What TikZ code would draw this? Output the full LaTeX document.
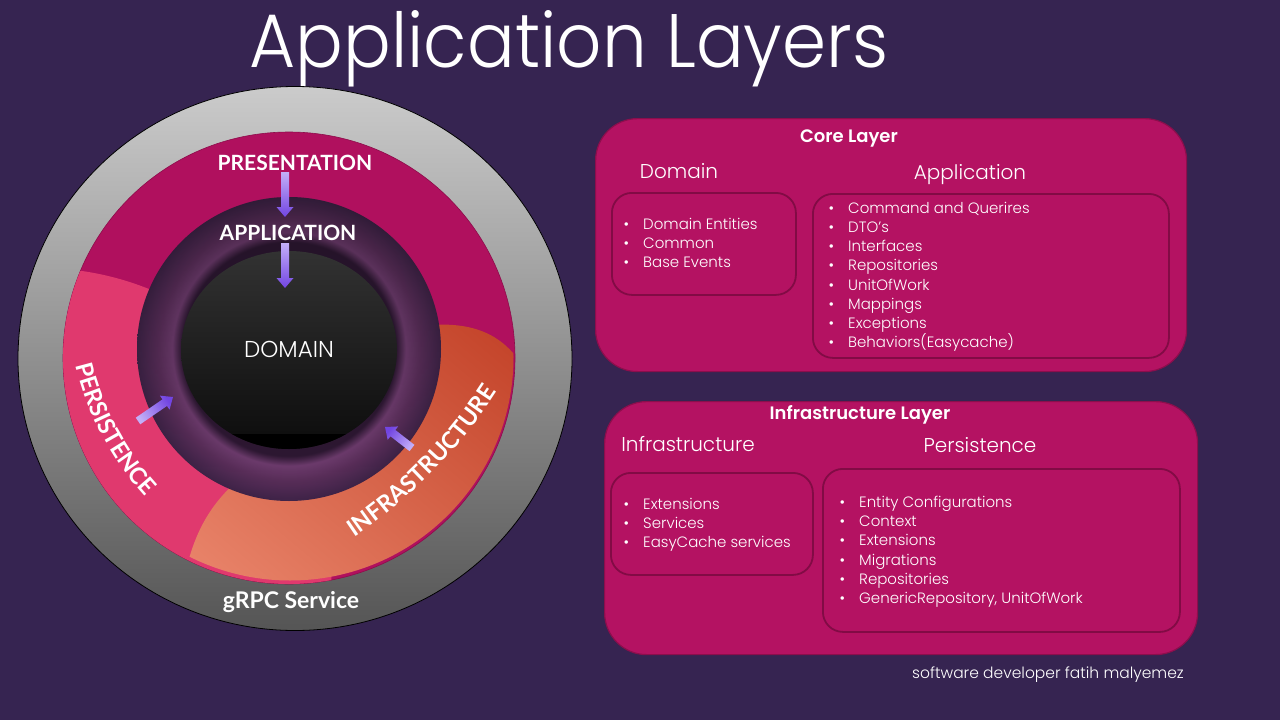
\documentclass[tikz,border=0pt]{standalone}
\usepackage{fontspec}
\usepackage{graphicx}
\setmainfont{Poppins}[UprightFont=* Light, BoldFont=* SemiBold]
\newfontfamily\gillfont{Lato}
\usetikzlibrary{calc, decorations.text, fadings}

\definecolor{bg}{HTML}{362451}
\definecolor{boxfill}{HTML}{B41262}
\definecolor{boxedge}{HTML}{8C0E4C}
\definecolor{inneredge}{HTML}{820B45}
\definecolor{ringmag}{HTML}{B0105E}
\definecolor{persist}{HTML}{E0396E}
\definecolor{orangeT}{HTML}{C4442A}
\definecolor{orangeB}{HTML}{EA866C}
\definecolor{grayT}{HTML}{CBCBCB}
\definecolor{grayB}{HTML}{555555}
\definecolor{ringedge}{HTML}{3E2347}
\definecolor{ringmid}{HTML}{5A2E5A}
\definecolor{ringlight}{HTML}{6E3C6E}
\definecolor{ringshadow}{HTML}{2E1833}
\definecolor{domT}{HTML}{323232}
\definecolor{domB}{HTML}{0C0C0C}
\definecolor{arrowL}{HTML}{C3AFF8}
\definecolor{arrowR}{HTML}{7245E2}

% application ring: dark rim, lighter band, shadow next to the domain core
\pgfdeclareradialshading{appring}{\pgfpoint{0bp}{0bp}}{%
  color(0bp)=(ringshadow); color(16.5bp)=(ringshadow); color(17.6bp)=(ringshadow);
  color(19.2bp)=(ringlight); color(21.5bp)=(ringmid); color(25bp)=(ringedge);
  color(50bp)=(ringedge)}
\tikzfading[name=topdark, top color=transparent!78, bottom color=transparent!100]

\tikzset{
  outerbox/.style={draw=boxedge, line width=1.2pt, fill=boxfill,
    rounded corners=42pt, inner sep=0, anchor=north west},
  innerbox/.style={draw=inneredge, line width=1.8pt, rounded corners=20pt,
    inner sep=0, anchor=north west},
  item/.style={anchor=base west, inner sep=0, text=white,
    font=\fontsize{15}{18}\selectfont},
  heading/.style={anchor=base, inner sep=0, text=white,
    font=\fontsize{20}{24}\selectfont},
  boxtitle/.style={anchor=base, inner sep=0, text=white,
    font=\bfseries\fontsize{18}{22}\selectfont},
  ringlabel/.style={anchor=base, inner sep=0, text=white,
    font=\gillfont\bfseries\fontsize{21}{24}\selectfont},
  arrowbody/.style={top color=arrowL, bottom color=arrowR},
}
\newcommand{\bul}{\makebox[20pt][l]{\hspace{0.5pt}•}}
% block arrow from #1 (tail) to #2 (tip); #3 = shading angle
\newcommand{\blockarrow}[3]{%
  \path[arrowbody, shading angle=#3]
    ($(#1)!4pt!90:(#2)$) -- ($($(#2)!10pt!(#1)$)!4pt!-90:(#1)$)
    -- ($($(#2)!10pt!(#1)$)!8.5pt!-90:(#1)$) -- (#2)
    -- ($($(#2)!10pt!(#1)$)!8.5pt!90:(#1)$)
    -- ($($(#2)!10pt!(#1)$)!4pt!90:(#1)$)
    -- ($(#1)!4pt!-90:(#2)$) -- cycle;}

\begin{document}
\begin{tikzpicture}[x=1pt, y=-1pt]
\useasboundingbox (0,0) rectangle (1280,720);
\fill[bg] (0,0) rectangle (1280,720);

% title
\node[anchor=base, inner sep=0, text=white] (title) at (569,67)
  {\resizebox{638pt}{57pt}{Application Layers}};

% ---------------- onion diagram ----------------
% gRPC service ring
\path[draw=black, line width=0.8pt, top color=grayT, bottom color=grayB]
  (295,358.5) ellipse[x radius=277, y radius=272];
% presentation ring
\path[fill=ringmag, draw=ringmag!80!black, line width=0.6pt]
  (289,358) circle[radius=226];
% persistence crescent
\begin{scope}
  \clip (289,358) circle[radius=226];
  \fill[persist] (40,560) circle[radius=292];
\end{scope}
% infrastructure crescent
\begin{scope}
  \clip (290,357) circle[radius=223.5];
  \path[shading=axis, top color=orangeT, bottom color=orangeB, shading angle=-40]
    (150,660) -- (180,600) .. controls (190,540) and (205,505) .. (250,470)
    -- (350,400) -- (430,325) .. controls (475,322) and (505,335) .. (525,370)
    -- (620,420) -- (620,660) -- cycle;
\end{scope}
% application ring
\path[shading=appring] (289,349) circle[radius=152];
\fill[black, path fading=topdark] (289,349) circle[radius=152];
% domain core
\path[top color=domT, bottom color=domB]
  (289,350) ellipse[x radius=108, y radius=99];
\begin{scope}
  \clip (289,350) ellipse[x radius=108, y radius=99];
  \fill[black] (170,434) rectangle (410,452);
\end{scope}

% ring labels
\node[ringlabel] (pres) at (295,170) {PRESENTATION};
\node[ringlabel] (appl) at (288,240) {APPLICATION};
\node[anchor=base, inner sep=0, text=white,
      font=\fontsize{23}{26}\selectfont] (dom) at (289,357.5) {DOMAIN};
\node[ringlabel, font=\gillfont\bfseries\fontsize{23}{26}\selectfont]
  (grpc) at (291,608.5) {gRPC Service};
\path[decorate, decoration={text along path, text align=center,
    text={|\gillfont\bfseries\fontsize{23.5}{26}\selectfont\color{white}|PERSISTENCE}}]
  (368,294) ++(170:301) arc[start angle=170, end angle=134, radius=301];
\path[decorate, decoration={text along path, text align=center,
    text={|\gillfont\bfseries\fontsize{23.5}{26}\selectfont\color{white}|INFRASTRUCTURE}}]
  (72,117) ++(64:506) arc[start angle=64, end angle=25, radius=506];

% dependency arrows between the layers
\coordinate (a1t) at (285,172);   \coordinate (a1h) at (285,217);
\coordinate (a2t) at (285,243);   \coordinate (a2h) at (285,288);
\coordinate (a3t) at (138,421);   \coordinate (a3h) at (173,397);
\coordinate (a4t) at (412,448);   \coordinate (a4h) at (385,427);
\blockarrow{a1t}{a1h}{0}
\blockarrow{a2t}{a2h}{0}
\blockarrow{a3t}{a3h}{125}
\blockarrow{a4t}{a4h}{-128}

% ---------------- core layer ----------------
\node[outerbox, minimum width=591pt, minimum height=253pt] (core) at (595,118) {};
\node[boxtitle] (coreT) at (849,142) {Core Layer};
\node[heading] (domH) at (679,178) {Domain};
\node[heading] (appH) at (970,179) {Application};
\node[innerbox, minimum width=184pt, minimum height=102pt] (domB) at (611,192) {};
\node[innerbox, minimum width=356pt, minimum height=164pt] (appB) at (812,193) {};
\foreach \t [count=\i from 0] in {Domain Entities, Common, Base Events}
  \node[item] (domI\i) at (623,229.5+19*\i) {\bul\t};
\foreach \t [count=\i from 0] in {Command and Querires, DTO’s, Interfaces,
    Repositories, UnitOfWork, Mappings, Exceptions, Behaviors(Easycache)}
  \node[item] (appI\i) at (828,213.5+19.15*\i) {\bul\t};

% ---------------- infrastructure layer ----------------
\node[outerbox, minimum width=593pt, minimum height=253pt] (infra) at (604,401) {};
\node[boxtitle] (infraT) at (860,419.5) {Infrastructure Layer};
\node[heading] (infH) at (688,451) {Infrastructure};
\node[heading] (perH) at (980,452) {Persistence};
\node[innerbox, minimum width=202pt, minimum height=102pt] (infB) at (610,472) {};
\node[innerbox, minimum width=357pt, minimum height=163pt] (perB) at (822,468) {};
\foreach \t [count=\i from 0] in {Extensions, Services, EasyCache services}
  \node[item] (infI\i) at (623,509.5+19*\i) {\bul\t};
\foreach \t [count=\i from 0] in {Entity Configurations, Context, Extensions,
    Migrations, Repositories, {GenericRepository, UnitOfWork}}
  \node[item] (perI\i) at (839,507.5+19.2*\i) {\bul\t};

\node[anchor=base east, inner sep=0, text=white,
      font=\fontsize{15.5}{18}\selectfont] (sig) at (1184,678)
  {software developer fatih malyemez};
\end{tikzpicture}
\end{document}
